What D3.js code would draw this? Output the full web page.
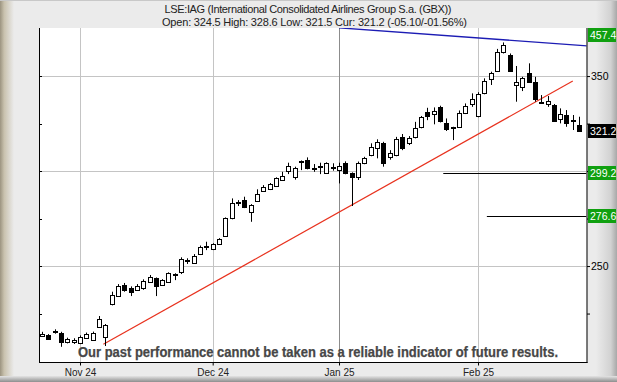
<!DOCTYPE html>
<html lang="en">
<head>
<meta charset="utf-8">
<script src="https://d3js.org/d3.v7.min.js"></script>
<style type="text/css">
	body {
		margin: 0;
		padding: 0;
		font: 11px "Liberation Sans", Arial, sans-serif;
	}
	svg text {
		font-family: "Liberation Sans", Arial, sans-serif;
	}
</style>
</head>
<body>
<svg id="chart" width="617" height="382"></svg>
<script type="text/javascript">
	var width = 617;
	var height = 382;

	// candles, one per trading day, Oct 24 2024 .. Feb 25 2025
	var opens = [213.3, 213.7, 215.2, 214.7, 210.0, 210.0, 209.3, 212.1, 211.1, 218.1,
		212.8, 229.8, 234.2, 240.0, 238.3, 237.4, 238.3, 241.7, 243.5, 240.0,
		241.7, 245.8, 247.0, 252.8, 251.7, 256.3, 260.4, 258.9, 261.6, 265.9,
		275.1, 283.5, 284.7, 278.6, 284.2, 289.5, 290.5, 292.1, 295.3, 300.2,
		296.7, 305.2, 305.8, 301.3, 302.7, 299.1, 301.8, 300.5, 304.1, 298.8,
		296.7, 304.1, 308.4, 311.9, 314.6, 307.5, 308.4, 317.7, 314.9, 318.1,
		323.0, 330.9, 329.8, 333.8, 325.1, 323.0, 323.0, 330.4, 335.1, 328.9,
		340.9, 348.3, 352.8, 362.8, 361.1, 345.3, 344.4, 351.4, 346.7, 336.4,
		335.3, 334.7, 327.2, 329.5, 326.7, 324.5];
	var highs = [215.4, 214.2, 216.7, 215.4, 212.3, 212.0, 213.5, 215.0, 215.5, 223.7,
		219.5, 236.5, 240.5, 241.1, 239.3, 240.5, 243.0, 245.3, 244.0, 243.1,
		246.7, 246.2, 254.6, 254.1, 256.3, 260.8, 262.8, 262.0, 264.7, 275.6,
		285.6, 284.7, 286.5, 282.6, 290.4, 292.6, 293.7, 296.7, 299.6, 304.4,
		302.3, 305.6, 307.2, 303.7, 304.4, 304.6, 304.1, 304.4, 305.1, 299.3,
		305.0, 307.5, 314.6, 316.7, 315.4, 311.0, 318.0, 319.5, 318.4, 325.9,
		329.0, 333.3, 333.5, 334.4, 327.7, 323.3, 331.9, 335.6, 340.9, 341.5,
		348.8, 352.3, 364.3, 367.7, 361.9, 355.3, 349.6, 356.7, 349.6, 340.0,
		339.5, 335.3, 333.0, 332.1, 329.5, 328.6];
	var lows = [212.8, 211.1, 214.4, 207.5, 209.3, 209.0, 208.9, 211.6, 210.6, 217.5,
		207.9, 229.3, 233.8, 236.5, 234.2, 237.0, 237.5, 241.2, 234.2, 239.6,
		241.2, 242.6, 245.8, 251.1, 251.2, 255.8, 258.4, 258.4, 261.2, 265.3,
		274.6, 281.6, 280.5, 273.3, 283.8, 289.0, 290.0, 291.6, 294.8, 298.4,
		295.5, 300.5, 300.9, 299.6, 298.4, 298.6, 300.2, 293.5, 298.3, 281.6,
		295.3, 303.6, 307.8, 306.7, 302.3, 306.0, 307.8, 311.0, 313.7, 317.2,
		322.5, 326.8, 324.6, 325.6, 321.1, 316.3, 322.7, 330.0, 333.8, 328.3,
		340.4, 345.3, 352.3, 361.9, 352.3, 336.5, 342.1, 346.5, 336.5, 335.6,
		333.8, 326.0, 325.1, 323.3, 321.6, 321.2];
	var closes = [214.0, 211.6, 215.6, 210.0, 211.6, 211.1, 212.8, 214.2, 214.9, 222.1,
		218.9, 234.7, 239.6, 237.4, 236.5, 239.5, 242.1, 244.4, 239.5, 242.6,
		246.2, 245.9, 253.5, 253.0, 255.3, 260.2, 260.6, 261.4, 264.2, 275.1,
		283.0, 283.8, 280.9, 282.1, 287.9, 291.7, 293.2, 296.2, 297.4, 302.6,
		301.7, 305.4, 301.4, 301.5, 302.9, 304.1, 302.0, 302.6, 298.8, 296.7,
		304.4, 306.7, 312.5, 315.4, 304.4, 309.6, 316.7, 311.9, 317.2, 322.5,
		328.3, 328.9, 331.6, 326.3, 322.1, 323.1, 330.4, 334.4, 337.7, 340.5,
		347.5, 351.4, 362.8, 366.3, 352.8, 347.0, 348.8, 347.0, 337.9, 336.6,
		336.8, 326.5, 329.8, 325.4, 326.9, 321.2];

	// month ticks (index of first trading day)
	var monthIdx = [6, 27, 47, 69];
	var monthLabels = ["Nov 24", "Dec 24", "Jan 25", "Feb 25"];

	var yTicks = [225, 250, 275, 300, 325, 350];
	var yLabelled = [250, 350];

	// drawn lines [index, price]
	var redTrend = [[9.7, 208.8], [84.0, 347.4]];
	var blueTrend = [[47.0, 375.4], [86.3, 365.9]];
	var targets = [{ from: 63.5, v: 299.2 }, { from: 70.4, v: 276.6 }];

	// right side boxes
	var boxes = [
		{ v: 457.4, txt: "457.4", col: "#10a010" },
		{ v: 321.2, txt: "321.2", col: "#000" },
		{ v: 299.2, txt: "299.2", col: "#10a010" },
		{ v: 276.6, txt: "276.6", col: "#10a010" }
	];

	// NB: "top" is taken by window.top, so prefix these
	var pLeft = 39, pRight = 586.5, pTop = 28, pBottom = 362;

	var x = d3.scaleLinear()
		.domain([0, 85])
		.range([42.1, 579.1]);
	var y = d3.scaleLinear()
		.domain([199.5, 375.3])
		.range([pBottom, 28]);

	var svg = d3.select("#chart");
	var defs = svg.append("defs");

	// frame gradients
	var gl = defs.append("linearGradient").attr("id", "gl");
	gl.append("stop").attr("offset", "0").attr("stop-color", "#9c9480");
	gl.append("stop").attr("offset", "0.3").attr("stop-color", "#c9c2ae");
	gl.append("stop").attr("offset", "1").attr("stop-color", "#ebebeb");
	var gr = defs.append("linearGradient").attr("id", "gr");
	gr.append("stop").attr("offset", "0").attr("stop-color", "#ebebeb");
	gr.append("stop").attr("offset", "0.7").attr("stop-color", "#d2d2d2");
	gr.append("stop").attr("offset", "1").attr("stop-color", "#a8a8a8");
	var gb = defs.append("linearGradient").attr("id", "gb")
		.attr("x1", 0).attr("x2", 0).attr("y1", 0).attr("y2", 1);
	gb.append("stop").attr("offset", "0").attr("stop-color", "#e4e4e4");
	gb.append("stop").attr("offset", "1").attr("stop-color", "#8e8e8e");

	defs.append("clipPath").attr("id", "plotclip")
		.append("rect")
		.attr("x", pLeft).attr("y", pTop)
		.attr("width", pRight - pLeft).attr("height", pBottom - pTop);

	svg.append("rect").attr("width", width).attr("height", height).style("fill", "#ebebeb");
	svg.append("rect").attr("width", 14).attr("height", height).style("fill", "url(#gl)");
	svg.append("rect").attr("x", 596).attr("width", 21).attr("height", height).style("fill", "url(#gr)");
	svg.append("rect").attr("y", 376).attr("width", width).attr("height", 6).style("fill", "url(#gb)");
	svg.append("rect").attr("width", width).attr("height", 1).style("fill", "#c8c8c8");

	// plot area
	svg.append("rect")
		.attr("x", pLeft).attr("y", pTop)
		.attr("width", pRight - pLeft).attr("height", pBottom - pTop)
		.style("fill", "#fff");

	// titles
	svg.append("text")
		.attr("x", 308).attr("y", 13)
		.attr("text-anchor", "middle")
		.attr("textLength", 287)
		.attr("font-size", "11px")
		.style("fill", "#222")
		.text("LSE:IAG (International Consolidated Airlines Group S.a. (GBX))");
	svg.append("text")
		.attr("x", 314.5).attr("y", 26)
		.attr("text-anchor", "middle")
		.attr("textLength", 305)
		.attr("font-size", "11px")
		.style("fill", "#222")
		.text("Open: 324.5 High: 328.6 Low: 321.5 Cur: 321.2 (-05.10/-01.56%)");

	// grid
	var grid = svg.append("g");
	grid.selectAll("line.h")
		.data([250, 300, 350])
		.enter()
		.append("line")
		.attr("x1", pLeft).attr("x2", pRight)
		.attr("y1", d => Math.round(y(d)) + 0.5)
		.attr("y2", d => Math.round(y(d)) + 0.5)
		.style("stroke", "#c4c4c4");
	grid.selectAll("line.v")
		.data(monthIdx)
		.enter()
		.append("line")
		.attr("x1", d => Math.round(x(d)) + 0.5)
		.attr("x2", d => Math.round(x(d)) + 0.5)
		.attr("y1", pTop).attr("y2", pBottom)
		.style("stroke", (d, i) => i == 2 ? "#8c8c8c" : "#c4c4c4");

	// disclaimer behind the candles
	svg.append("text")
		.attr("x", 78).attr("y", 357)
		.attr("textLength", 480)
		.attr("lengthAdjust", "spacingAndGlyphs")
		.attr("font-size", "14px")
		.attr("font-weight", "bold")
		.style("fill", "#474747")
		.style("stroke", "#474747")
		.style("stroke-width", 0.25)
		.text("Our past performance cannot be taken as a reliable indicator of future results.");

	var plot = svg.append("g").attr("clip-path", "url(#plotclip)");

	// horizontal target lines
	plot.selectAll("line.t")
		.data(targets)
		.enter()
		.append("line")
		.attr("x1", d => x(d.from))
		.attr("x2", pRight)
		.attr("y1", d => Math.round(y(d.v)) + 0.5)
		.attr("y2", d => Math.round(y(d.v)) + 0.5)
		.style("stroke", "#000");

	var line = d3.line().x(d => x(d[0])).y(d => y(d[1]));

	plot.append("path")
		.attr("d", line(redTrend))
		.style("fill", "none")
		.style("stroke", "#e8321e")
		.style("stroke-width", 1.2);

	plot.append("path")
		.attr("d", line(blueTrend))
		.style("fill", "none")
		.style("stroke", "#1c1cb4")
		.style("stroke-width", 1.3);

	// candles
	var candles = plot.selectAll("g.c")
		.data(d3.range(opens.length))
		.enter()
		.append("g");

	candles.append("line")
		.attr("x1", i => Math.round(x(i)) + 0.5)
		.attr("x2", i => Math.round(x(i)) + 0.5)
		.attr("y1", i => y(highs[i]))
		.attr("y2", i => y(lows[i]))
		.style("stroke", "#000");

	candles.append("rect")
		.attr("x", i => Math.round(x(i)) - 2 + 0.5)
		.attr("width", 4)
		.attr("y", i => Math.round(y(Math.max(opens[i], closes[i]))) + 0.5)
		.attr("height", function (i) {
			var h = Math.round(y(Math.min(opens[i], closes[i]))) - Math.round(y(Math.max(opens[i], closes[i])));
			return Math.max(h, 1);
		})
		.style("fill", i => closes[i] >= opens[i] ? "#fff" : "#000")
		.style("stroke", "#000");

	// axes
	svg.append("line")
		.attr("x1", pLeft + 0.5).attr("x2", pLeft + 0.5)
		.attr("y1", pTop).attr("y2", pBottom + 1)
		.style("stroke", "#000");
	svg.append("line")
		.attr("x1", pRight + 0.5).attr("x2", pRight + 0.5)
		.attr("y1", pTop).attr("y2", pBottom + 1)
		.style("stroke", "#000");

	// left inner ticks
	svg.selectAll("line.lt")
		.data(yTicks)
		.enter()
		.append("line")
		.attr("x1", pLeft).attr("x2", pLeft + 3)
		.attr("y1", d => Math.round(y(d)) + 0.5)
		.attr("y2", d => Math.round(y(d)) + 0.5)
		.style("stroke", "#000");

	var yAxis = d3.axisRight(y)
		.tickValues(yTicks)
		.tickSize(3)
		.tickPadding(1)
		.tickFormat(d => yLabelled.indexOf(d) >= 0 ? d : "");
	var ya = svg.append("g")
		.attr("transform", "translate(" + (pRight + 0.5) + ",0)")
		.call(yAxis);
	ya.select(".domain").remove();
	ya.selectAll("text").attr("font-size", "10.5px").style("fill", "#000");

	var xAxis = d3.axisBottom(x)
		.tickValues(monthIdx)
		.tickSize(3)
		.tickPadding(3)
		.tickFormat((d, i) => monthLabels[i]);
	var xa = svg.append("g")
		.attr("transform", "translate(0," + (pBottom + 0.5) + ")")
		.call(xAxis);
	xa.select(".domain").remove();
	xa.selectAll("text").attr("font-size", "10px").style("fill", "#222");
	svg.append("line")
		.attr("x1", pLeft).attr("x2", pRight + 1)
		.attr("y1", pBottom + 0.5).attr("y2", pBottom + 0.5)
		.style("stroke", "#000");

	// price boxes on the right
	var bx = svg.selectAll("g.box")
		.data(boxes)
		.enter()
		.append("g")
		.attr("transform", function (d) {
			var cy = Math.max(y(d.v), 35);
			return "translate(588," + Math.round(cy - 7) + ")";
		});
	bx.append("rect")
		.attr("width", 28).attr("height", 14)
		.style("fill", d => d.col);
	bx.append("text")
		.attr("x", 2).attr("y", 11)
		.attr("font-size", "10.5px")
		.style("fill", "#fff")
		.text(d => d.txt);
</script>
</body>
</html>
